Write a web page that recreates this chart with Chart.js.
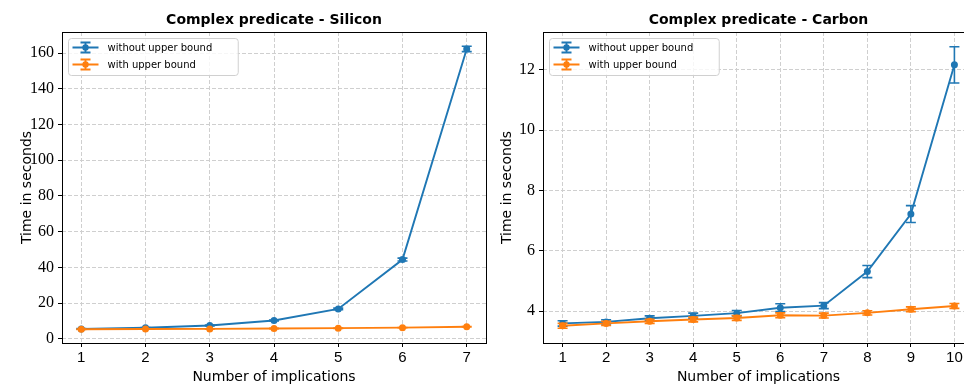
<!DOCTYPE html>
<html>
<head>
<meta charset="utf-8">
<script src="https://cdn.jsdelivr.net/npm/chart.js@4.4.1/dist/chart.umd.min.js"></script>
<style>
html, body { margin: 0; padding: 0; background: #fff; overflow: hidden; }
#wrap { position: relative; width: 964px; height: 388px; overflow: hidden; }
#c1 { position: absolute; left: 0; top: 0; }
#c2 { position: absolute; left: 490px; top: 0; }
</style>
</head>
<body>
<div id="wrap">
  <canvas id="c1" width="490" height="388"></canvas>
  <canvas id="c2" width="488" height="388"></canvas>
</div>
<script>
// data
var seriesLabels = ['without upper bound', 'with upper bound'];

var siliconX = [1, 2, 3, 4, 5, 6, 7];
var siliconNoBound = [5.6, 6.2, 7.5, 10.3, 16.8, 44.4, 162.3];
var siliconNoBoundErr = [0.2, 0.2, 0.3, 0.3, 0.4, 0.8, 1.5];
var siliconBound = [5.4, 5.5, 5.6, 5.8, 6.0, 6.3, 6.8];
var siliconBoundErr = [0.1, 0.1, 0.1, 0.1, 0.1, 0.1, 0.1];
var siliconYTicks = [0, 20, 40, 60, 80, 100, 120, 140, 160];

var carbonX = [1, 2, 3, 4, 5, 6, 7, 8, 9, 10];
var carbonNoBound = [3.59, 3.64, 3.76, 3.84, 3.93, 4.11, 4.18, 5.31, 7.22, 12.17];
var carbonNoBoundErr = [0.09, 0.07, 0.08, 0.09, 0.09, 0.13, 0.10, 0.20, 0.28, 0.60];
var carbonBound = [3.51, 3.59, 3.66, 3.72, 3.77, 3.86, 3.85, 3.94, 4.06, 4.17];
var carbonBoundErr = [0.08, 0.07, 0.07, 0.08, 0.08, 0.08, 0.08, 0.07, 0.08, 0.08];
var carbonYTicks = [4, 6, 8, 10, 12];

var blue = '#1f77b4';
var orange = '#ff7f0e';

function pts(xs, ys) {
    return xs.map(function (x, i) { return {x: x, y: ys[i]}; });
}

// error bars, drawn under each dataset's line and markers
var errorBars = {
    id: 'errorBars',
    beforeDatasetDraw: function (chart, args) {
        var ds = chart.data.datasets[args.index];
        if (!ds.errors) return;
        var xs = chart.scales.x, ys = chart.scales.y, ctx = chart.ctx;
        ctx.save();
        ctx.strokeStyle = ds.borderColor;
        ctx.lineWidth = 1.6;
        ds.data.forEach(function (p, i) {
            var e = ds.errors[i];
            var px = xs.getPixelForValue(p.x);
            var top = ys.getPixelForValue(p.y + e);
            var bot = ys.getPixelForValue(p.y - e);
            ctx.beginPath();
            ctx.moveTo(px, top); ctx.lineTo(px, bot);
            ctx.moveTo(px - 5, top); ctx.lineTo(px + 5, top);
            ctx.moveTo(px - 5, bot); ctx.lineTo(px + 5, bot);
            ctx.stroke();
        });
        ctx.restore();
    }
};

// frame, title and legend box
var decorations = {
    id: 'decorations',
    afterDraw: function (chart, args, opts) {
        var ctx = chart.ctx, a = chart.chartArea;
        ctx.save();
        ctx.strokeStyle = '#000';
        ctx.lineWidth = 1;
        ctx.strokeRect(Math.round(a.left) + 0.5, Math.round(a.top) + 0.5,
            Math.round(a.right - a.left), Math.round(a.bottom - a.top));

        ctx.fillStyle = '#000';
        ctx.font = 'bold 14px "DejaVu Sans"';
        ctx.textAlign = 'center';
        ctx.textBaseline = 'middle';
        ctx.fillText(opts.title, (a.left + a.right) / 2, 20);

        // legend
        ctx.font = '10px "DejaVu Sans"';
        var bx = a.left + 6.5, by = a.top + 6.5;
        var tw = Math.max.apply(null, seriesLabels.map(function (t) { return ctx.measureText(t).width; }));
        var bw = 39 + tw + 26, bh = 37;
        ctx.beginPath();
        ctx.roundRect(bx, by, bw, bh, 3);
        ctx.fillStyle = 'rgba(255,255,255,0.8)';
        ctx.fill();
        ctx.strokeStyle = '#d0d0d0';
        ctx.stroke();
        chart.data.datasets.forEach(function (ds, i) {
            var cy = by + 9 + i * 17;
            var sx = bx + 4, cx = bx + 17;
            ctx.strokeStyle = ds.borderColor;
            ctx.lineWidth = 1.8;
            ctx.beginPath();
            ctx.moveTo(sx, cy); ctx.lineTo(sx + 26, cy);
            ctx.moveTo(cx, cy - 5); ctx.lineTo(cx, cy + 5);
            ctx.moveTo(cx - 5, cy - 5); ctx.lineTo(cx + 5, cy - 5);
            ctx.moveTo(cx - 5, cy + 5); ctx.lineTo(cx + 5, cy + 5);
            ctx.stroke();
            ctx.fillStyle = ds.borderColor;
            ctx.beginPath();
            ctx.arc(cx, cy, 3.2, 0, Math.PI * 2);
            ctx.fill();
            ctx.fillStyle = '#000';
            ctx.textAlign = 'left';
            ctx.fillText(seriesLabels[i], bx + 39, cy + 0.5);
        });
        ctx.restore();
    }
};

function makeChart(id, title, xs, noB, noBErr, wB, wBErr, yTicks, xMin, xMax, yMin, yMax, yWidth, yTitlePad, padRight) {
    return new Chart(document.getElementById(id).getContext('2d'), {
        type: 'line',
        data: {
            datasets: [{
                label: seriesLabels[0],
                data: pts(xs, noB),
                errors: noBErr,
                borderColor: blue,
                backgroundColor: blue,
                borderWidth: 1.9,
                pointRadius: 3.5,
                pointBorderWidth: 0,
                order: 1
            }, {
                label: seriesLabels[1],
                data: pts(xs, wB),
                errors: wBErr,
                borderColor: orange,
                backgroundColor: orange,
                borderWidth: 1.9,
                pointRadius: 3.5,
                pointBorderWidth: 0,
                order: 0
            }]
        },
        options: {
            responsive: false,
            animation: false,
            layout: { padding: { top: 32, right: padRight, left: 0, bottom: 0 } },
            plugins: {
                legend: { display: false },
                tooltip: { enabled: false },
                decorations: { title: title }
            },
            scales: {
                x: {
                    type: 'linear',
                    min: xMin, max: xMax,
                    afterBuildTicks: function (s) { s.ticks = xs.map(function (v) { return {value: v}; }); },
                    afterFit: function (s) { s.height = 45; },
                    grid: { color: '#cfcfcf', tickColor: '#000', tickLength: 4, tickWidth: 1 },
                    border: { display: false, dash: [4, 2] },
                    ticks: { color: '#000', padding: 2, maxRotation: 0, font: { family: 'Liberation Sans', size: 15 } },
                    title: { display: true, text: 'Number of implications', color: '#000',
                        padding: { top: 0, bottom: 2 }, font: { family: 'DejaVu Sans', size: 14 } }
                },
                y: {
                    type: 'linear',
                    min: yMin, max: yMax,
                    afterBuildTicks: function (s) { s.ticks = yTicks.map(function (v) { return {value: v}; }); },
                    afterFit: function (s) { s.width = yWidth; },
                    grid: { color: '#cfcfcf', tickColor: '#000', tickLength: 4, tickWidth: 1 },
                    border: { display: false, dash: [4, 2] },
                    ticks: { color: '#000', padding: 4, font: { family: 'Liberation Serif', size: 16 } },
                    title: { display: true, text: 'Time in seconds', color: '#000',
                        padding: { top: yTitlePad, bottom: 0 }, font: { family: 'DejaVu Sans', size: 14 } }
                }
            }
        },
        plugins: [errorBars, decorations]
    });
}

makeChart('c1', 'Complex predicate - Silicon', siliconX,
    siliconNoBound, siliconNoBoundErr, siliconBound, siliconBoundErr,
    siliconYTicks, 0.7, 7.3, -2.3, 171.8, 62, 19, 4);

makeChart('c2', 'Complex predicate - Carbon', carbonX,
    carbonNoBound, carbonNoBoundErr, carbonBound, carbonBoundErr,
    carbonYTicks, 0.55, 10.45, 2.94, 13.26, 53, 9, 4);
</script>
</body>
</html>
